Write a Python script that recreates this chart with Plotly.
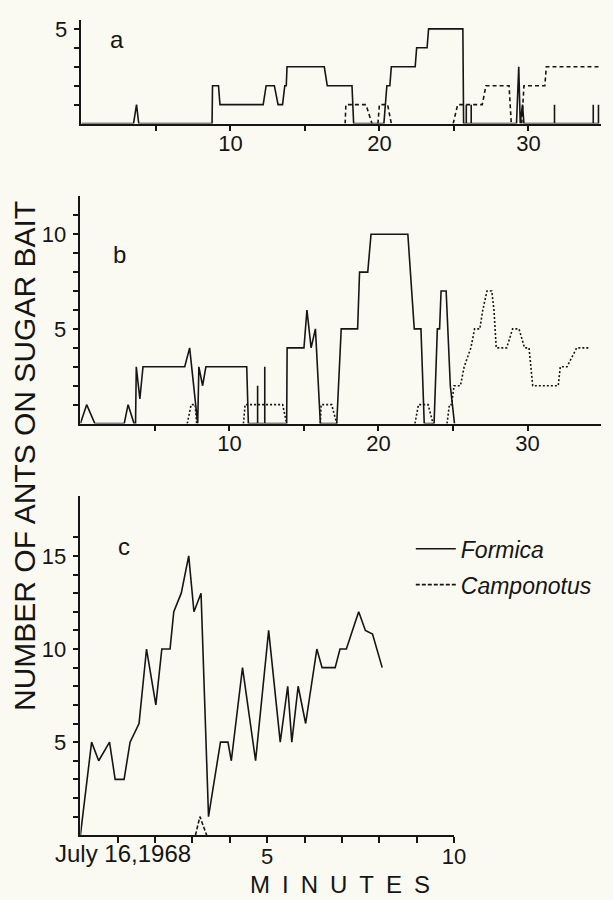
import plotly.graph_objects as go

# ---------------- data (minutes, number of ants) ----------------
# panel a
a_formica_t = [0, 3.5, 3.7, 3.85, 8.77, 8.8, 9.2, 9.3, 12.2, 12.4, 12.95, 13.2, 13.5, 13.65, 13.75, 13.8,
               16.3, 16.5, 18.16, 18.27, 20.3, 20.5, 20.7, 20.8, 22.4, 22.5, 23.2, 23.3, 25.6, 25.65,
               25.83, 25.83, 25.83, 26.16, 26.16, 26.16, 29.2, 29.35, 29.45, 29.6, 29.7,
               31.75, 31.75, 31.75, 34.35, 34.35, 34.35, 34.7, 34.7, 34.7]
a_formica_n = [0, 0, 1, 0, 0, 2, 2, 1, 1, 2, 2, 1, 1, 2, 2, 3,
               3, 2, 2, 0, 0, 2, 2, 3, 3, 4, 4, 5, 5, 0,
               0, 1, 0, 0, 1, 0, 0, 3, 0, 1, 0,
               0, 1, 0, 0, 1, 0, 0, 1, 0]
a_campo_t = [17.7, 17.75, 19.1, 19.5, None, 19.9, 20.0, 20.55, 20.8, None,
             24.95, 25.25, 26.9, 27.15, 28.7, 28.85, None, 29.55, 29.7, 31.1, 31.2, 34.87]
a_campo_n = [0, 1, 1, 0, None, 0, 1, 1, 0, None,
             0, 1, 1, 2, 2, 0, None, 0, 2, 2, 3, 3]

# panel b
b_formica_t = [0, 0.42, 0.97, 2.94, 3.2, 3.6, 3.7, 3.75, 3.99, 4.2, 7.0, 7.33, 7.87, 7.95, 8.2, 8.42,
               11.16, 11.27, 11.89, 11.89, 11.89, 12.37, 12.37, 12.37, 13.84, 13.87, 15.0, 15.2, 15.48,
               15.77, 16.1, 17.2, 17.5, 18.6, 18.73, 19.28, 19.5, 21.97, 22.4, 22.85, 23.07, 23.73,
               23.95, 24.1, 24.2, 24.54, 24.82, 25.1]
b_formica_n = [0, 1, 0, 0, 1, 0, 0, 3, 1.3, 3, 3, 4, 0, 3, 2, 3,
               3, 0, 0, 2, 0, 0, 3, 0, 0, 4, 4, 6, 4,
               5, 0, 0, 5, 5, 8, 8, 10, 10, 5, 5, 0, 0,
               5, 5, 7, 7, 2, 0]
b_campo_t = [7.17, 7.43, 7.7, 7.8, None, 10.94, 11.05, 13.57, 13.84, None,
             16.1, 16.15, 16.86, 17.2, None, 22.45, 22.68, 23.33, 23.66, None,
             24.6, 24.76, 24.9, 25.07, 25.5, 25.75, 26.2, 26.45, 26.8, 27.0, 27.28, 27.6, 27.75,
             27.9, 28.6, 29.0, 29.43, 29.8, 30.1, 30.2, 30.35, 32.06, 32.2, 32.65, 33.3, 34.08]
b_campo_n = [0, 1, 1, 0, None, 0, 1, 1, 0, None,
             0, 1, 1, 0, None, 0, 1, 1, 0, None,
             0, 1, 1, 2, 2, 3, 4, 5, 5, 6, 7, 7, 6,
             4, 4, 5, 5, 4, 4, 3, 2, 2, 3, 3, 4, 4]

# panel c
c_formica_t = [0, 0.3, 0.49, 0.78, 0.93, 1.17, 1.33, 1.57, 1.77, 2.02, 2.18, 2.4, 2.5, 2.7, 2.9, 3.04,
               3.23, 3.43, 3.75, 3.95, 4.04, 4.34, 4.69, 5.04, 5.35, 5.55, 5.66, 5.83, 6.03, 6.33,
               6.47, 6.82, 6.95, 7.12, 7.45, 7.63, 7.82, 8.08]
c_formica_n = [0, 5, 4, 5, 3, 3, 5, 6, 10, 7, 10, 10, 12, 13, 15, 12,
               13, 1, 5, 5, 4, 9, 4, 11, 5, 8, 5, 8, 6, 10,
               9, 9, 10, 10, 12, 11, 10.8, 9]
c_campo_t = [3.08, 3.2, 3.38]
c_campo_n = [0, 1, 0]

# tick labels
a_xticks = [5, 10, 15, 20, 25, 30]
a_xlabels = ["", "10", "", "20", "", "30"]
a_yticks = [1, 2, 3, 4, 5]
a_ylabels = ["", "", "", "", "5"]
b_yticks = list(range(1, 12))
b_ylabels = ["5" if v == 5 else "10" if v == 10 else "" for v in b_yticks]
c_xticks = list(range(1, 11))
c_xlabels = ["5" if v == 5 else "10" if v == 10 else "" for v in c_xticks]
c_yticks = list(range(1, 17))
c_ylabels = [str(v) if v in (5, 10, 15) else "" for v in c_yticks]

series_names = ["Formica", "Camponotus"]

# ---------------- figure ----------------
W, H = 613, 900
INK = "#151515"
BG = "#fbfaf2"
FONT = "Liberation Sans, Arial, sans-serif"

fig = go.Figure()

def add(t, n, xa, ya, dash, name, show):
    fig.add_trace(go.Scatter(
        x=t, y=n, mode="lines", xaxis=xa, yaxis=ya, name=name,
        line=dict(color=INK, width=1.6, dash=dash),
        showlegend=show, legendgroup=name, cliponaxis=False,
        connectgaps=False))

add(a_formica_t, a_formica_n, "x", "y", "solid", series_names[0], False)
add(a_campo_t, a_campo_n, "x", "y", "4px,3px", series_names[1], False)
add(b_formica_t, b_formica_n, "x2", "y2", "solid", series_names[0], False)
add(b_campo_t, b_campo_n, "x2", "y2", "2px,2px", series_names[1], False)
add(c_formica_t, c_formica_n, "x3", "y3", "solid", series_names[0], True)
add(c_campo_t, c_campo_n, "x3", "y3", "4px,2px", series_names[1], True)

def px_x(p):
    return p / W

def px_y(p):
    return 1 - p / H

axis_common = dict(showline=True, linecolor=INK, linewidth=1.6, ticks="outside",
                   ticklen=6, tickwidth=1.5, tickcolor=INK, showgrid=False,
                   zeroline=False, tickfont=dict(family=FONT, size=22, color=INK),
                   fixedrange=True)

fig.update_layout(
    width=W, height=H, autosize=False,
    margin=dict(l=0, r=0, t=0, b=0),
    paper_bgcolor=BG, plot_bgcolor=BG,
    xaxis=dict(domain=[px_x(83), 1], range=[0, 34.87], anchor="y",
               tickmode="array", tickvals=a_xticks, ticktext=a_xlabels,
               ticklabelstandoff=-7, **axis_common),
    yaxis=dict(domain=[px_y(121), px_y(17)], range=[0, 5.47], anchor="x",
               tickmode="array", tickvals=a_yticks, ticktext=a_ylabels,
               ticklabelstandoff=2, **axis_common),
    xaxis2=dict(domain=[px_x(82), 1], range=[0, 34.93], anchor="y2",
                tickmode="array", tickvals=a_xticks, ticktext=a_xlabels,
                ticklabelstandoff=-7, **axis_common),
    yaxis2=dict(domain=[px_y(422), px_y(194)], range=[0, 12], anchor="x2",
                tickmode="array", tickvals=b_yticks, ticktext=b_ylabels,
                ticklabelstandoff=2, **axis_common),
    xaxis3=dict(domain=[px_x(82), px_x(463)], range=[0, 10], anchor="y3",
                tickmode="array", tickvals=c_xticks, ticktext=c_xlabels,
                ticklabelstandoff=-5, **axis_common),
    yaxis3=dict(domain=[px_y(835), px_y(495)], range=[0, 18.2], anchor="x3",
                tickmode="array", tickvals=c_yticks, ticktext=c_ylabels,
                ticklabelstandoff=2, **axis_common),
    legend=dict(x=px_x(419), y=px_y(526), xanchor="left", yanchor="top",
                bgcolor="rgba(0,0,0,0)", traceorder="grouped", tracegroupgap=3,
                font=dict(family=FONT, size=23, color=INK, style="italic"),
                itemwidth=40),
    showlegend=True,
)

ann = [
    dict(text="NUMBER OF ANTS ON SUGAR BAIT", x=px_x(25), y=px_y(455), textangle=-90,
         yanchor="middle", font=dict(family=FONT, size=30, color=INK)),
    dict(text="M\u2002I\u2002N\u2002U\u2002T\u2002E\u2002S", x=px_x(347), y=0,
         yanchor="bottom", font=dict(family=FONT, size=24, color=INK)),
    dict(text="July 16,1968", x=px_x(125), y=px_y(853),
         yanchor="middle", font=dict(family=FONT, size=24, color=INK)),
    dict(text="a", x=px_x(119), y=px_y(37), yanchor="middle",
         font=dict(family=FONT, size=24, color=INK)),
    dict(text="b", x=px_x(122), y=px_y(252), yanchor="middle",
         font=dict(family=FONT, size=24, color=INK)),
    dict(text="c", x=px_x(126), y=px_y(545), yanchor="middle",
         font=dict(family=FONT, size=24, color=INK)),
]
for a in ann:
    fig.add_annotation(xref="paper", yref="paper", showarrow=False,
                       xanchor="center", **a)

fig.write_html("out.html")
